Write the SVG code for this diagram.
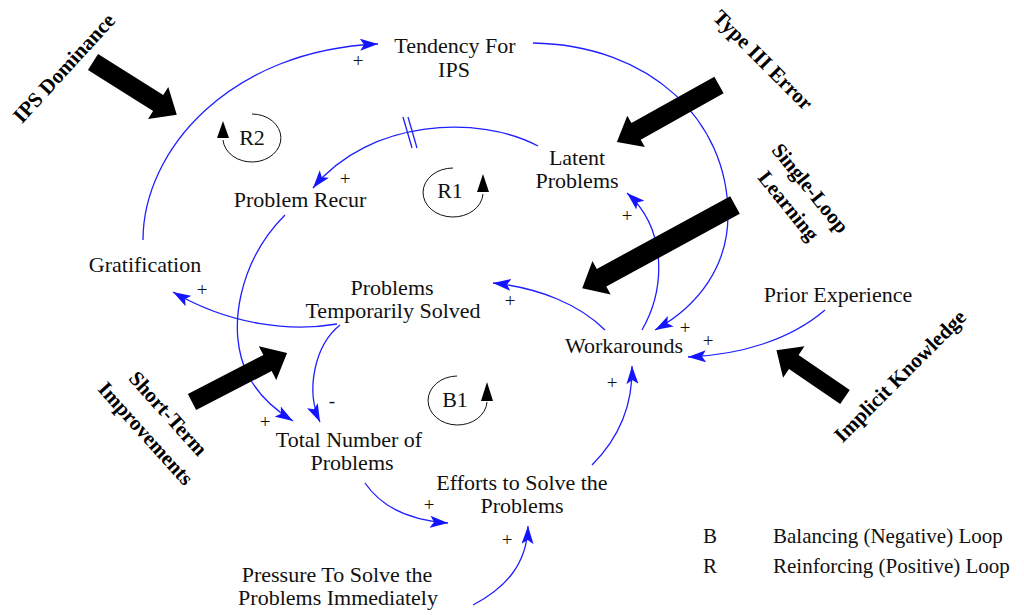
<svg xmlns="http://www.w3.org/2000/svg" width="1024" height="615" viewBox="0 0 1024 615">
<style>
.t{font-family:"Liberation Serif","Times New Roman",serif;font-size:22px;fill:#111;text-anchor:middle}
.lg{font-family:"Liberation Serif","Times New Roman",serif;font-size:21px;fill:#111}
.b{font-family:"Liberation Serif","Times New Roman",serif;font-size:21px;font-weight:bold;fill:#000;text-anchor:middle}
.s{font-family:"Liberation Serif","Times New Roman",serif;font-size:19px;fill:#111;text-anchor:middle}
.c{fill:none;stroke:#1f1fff;stroke-width:1.3;marker-end:url(#ah)}
.h{fill:none;stroke:#1f1fff;stroke-width:1.3}
.lp{fill:none;stroke:#111;stroke-width:1}
.blk{fill:#000}
</style>
<defs>
<marker id="ah" markerUnits="userSpaceOnUse" markerWidth="18" markerHeight="12" refX="18" refY="6" orient="auto">
<path d="M0,0 L18,6 L0,12 L4,6 z" fill="#1414ff"/>
</marker>
</defs>
<rect width="1024" height="615" fill="#fff"/>

<g id="connectors">
<path class="c" d="M143,240 C143,150 230,50 378,44"/>
<path class="c" d="M533,43 C650,45 728,120 728,215 C728,265 700,305 655,330"/>
<path class="c" d="M538,146 C480,115 370,118 313,188"/>
<path class="h" d="M403,117 L412,148 M408,117 L417,148"/>
<path class="c" d="M285,215 C240,260 225,330 248,375 C258,395 275,410 293,421"/>
<path class="c" d="M337,324 C290,332 230,325 173,292"/>
<path class="c" d="M340,325 C315,345 305,390 320,422"/>
<path class="c" d="M605,330 C580,305 540,288 493,283"/>
<path class="c" d="M642,330 C665,290 668,230 627,193"/>
<path class="c" d="M825,310 C790,340 740,355 688,357"/>
<path class="c" d="M592,465 C620,437 633,405 632,366"/>
<path class="c" d="M365,483 C380,505 405,520 448,523"/>
<path class="c" d="M473,605 C505,588 527,565 528,526"/>
</g>

<g id="polarities">
<text class="s" x="358" y="67">+</text>
<text class="s" x="345" y="185">+</text>
<text class="s" x="627" y="222">+</text>
<text class="s" x="510" y="307">+</text>
<text class="s" x="202" y="296">+</text>
<text class="s" x="685" y="334">+</text>
<text class="s" x="708" y="347">+</text>
<text class="s" x="612" y="389">+</text>
<text class="s" x="265" y="428">+</text>
<text class="s" x="332" y="407">-</text>
<text class="s" x="429" y="511">+</text>
<text class="s" x="507" y="546">+</text>
</g>

<g id="tendency"><text class="t" x="455" y="53">Tendency For</text><text class="t" x="454" y="77">IPS</text></g>
<g id="latent"><text class="t" x="577" y="165">Latent</text><text class="t" x="577" y="188">Problems</text></g>
<g id="recur"><text class="t" x="300" y="207">Problem Recur</text></g>
<g id="gratification"><text class="t" x="145" y="272">Gratification</text></g>
<g id="tempsolved"><text class="t" x="392" y="295">Problems</text><text class="t" x="393" y="318">Temporarily Solved</text></g>
<g id="workarounds"><text class="t" x="624" y="353">Workarounds</text></g>
<g id="prior"><text class="t" x="838" y="302">Prior Experience</text></g>
<g id="total"><text class="t" x="349" y="447">Total Number of</text><text class="t" x="352" y="470">Problems</text></g>
<g id="efforts"><text class="t" x="522" y="490">Efforts to Solve the</text><text class="t" x="522" y="513">Problems</text></g>
<g id="pressure"><text class="t" x="337" y="582">Pressure To Solve the</text><text class="t" x="338" y="605">Problems Immediately</text></g>

<g id="loop-R2">
<path class="lp" d="M252,114 A29,24 0 1 1 223,140"/>
<polygon class="blk" points="223,121 217,138 229,138"/>
<text class="t" x="252" y="145">R2</text>
</g>
<g id="loop-R1">
<path class="lp" d="M453,168 A30,24.5 0 1 0 483,194"/>
<polygon class="blk" points="483,174 477,192 489,192"/>
<text class="t" x="450" y="198">R1</text>
</g>
<g id="loop-B1">
<path class="lp" d="M457,376 A29.5,24.5 0 1 0 487,402"/>
<polygon class="blk" points="487,382 481,401 493,401"/>
<text class="t" x="455" y="407">B1</text>
</g>

<g id="ips-dominance">
<polygon class="blk" transform="translate(93,62) rotate(32.2)" points="0,-9.5 77,-9.5 77,-19 99,0 77,19 77,9.5 0,9.5"/>
<text class="b" transform="translate(64,68) rotate(-47.5)" y="7">IPS Dominance</text>
</g>
<g id="type3-error">
<polygon class="blk" transform="translate(719,85) rotate(150.8)" points="0,-9.5 95,-9.5 95,-18 117,0 95,18 95,9.5 0,9.5"/>
<text class="b" transform="translate(763,60) rotate(45)" y="7">Type III Error</text>
</g>
<g id="single-loop">
<polygon class="blk" transform="translate(735,205) rotate(151.4)" points="0,-10 152,-10 152,-19 174,0 152,19 152,10 0,10"/>
<g transform="translate(799.5,197) rotate(51)"><text class="b" y="-7">Single-Loop</text><text class="b" y="21">Learning</text></g>
</g>
<g id="short-term">
<polygon class="blk" transform="translate(192,402) rotate(-27.3)" points="0,-9 85,-9 85,-19 107,0 85,19 85,9 0,9"/>
<g transform="translate(157,423.5) rotate(48)"><text class="b" y="-8">Short-Term</text><text class="b" y="22">Improvements</text></g>
</g>
<g id="implicit">
<polygon class="blk" transform="translate(845,397) rotate(-145.7)" points="0,-8.5 62,-8.5 62,-19 83,0 62,19 62,8.5 0,8.5"/>
<text class="b" transform="translate(900,376) rotate(-45)" y="7">Implicit Knowledge</text>
</g>

<g id="legend">
<text class="lg" x="703" y="543">B</text><text class="lg" x="773" y="543">Balancing (Negative) Loop</text>
<text class="lg" x="703" y="573">R</text><text class="lg" x="773" y="573">Reinforcing (Positive) Loop</text>
</g>
</svg>
